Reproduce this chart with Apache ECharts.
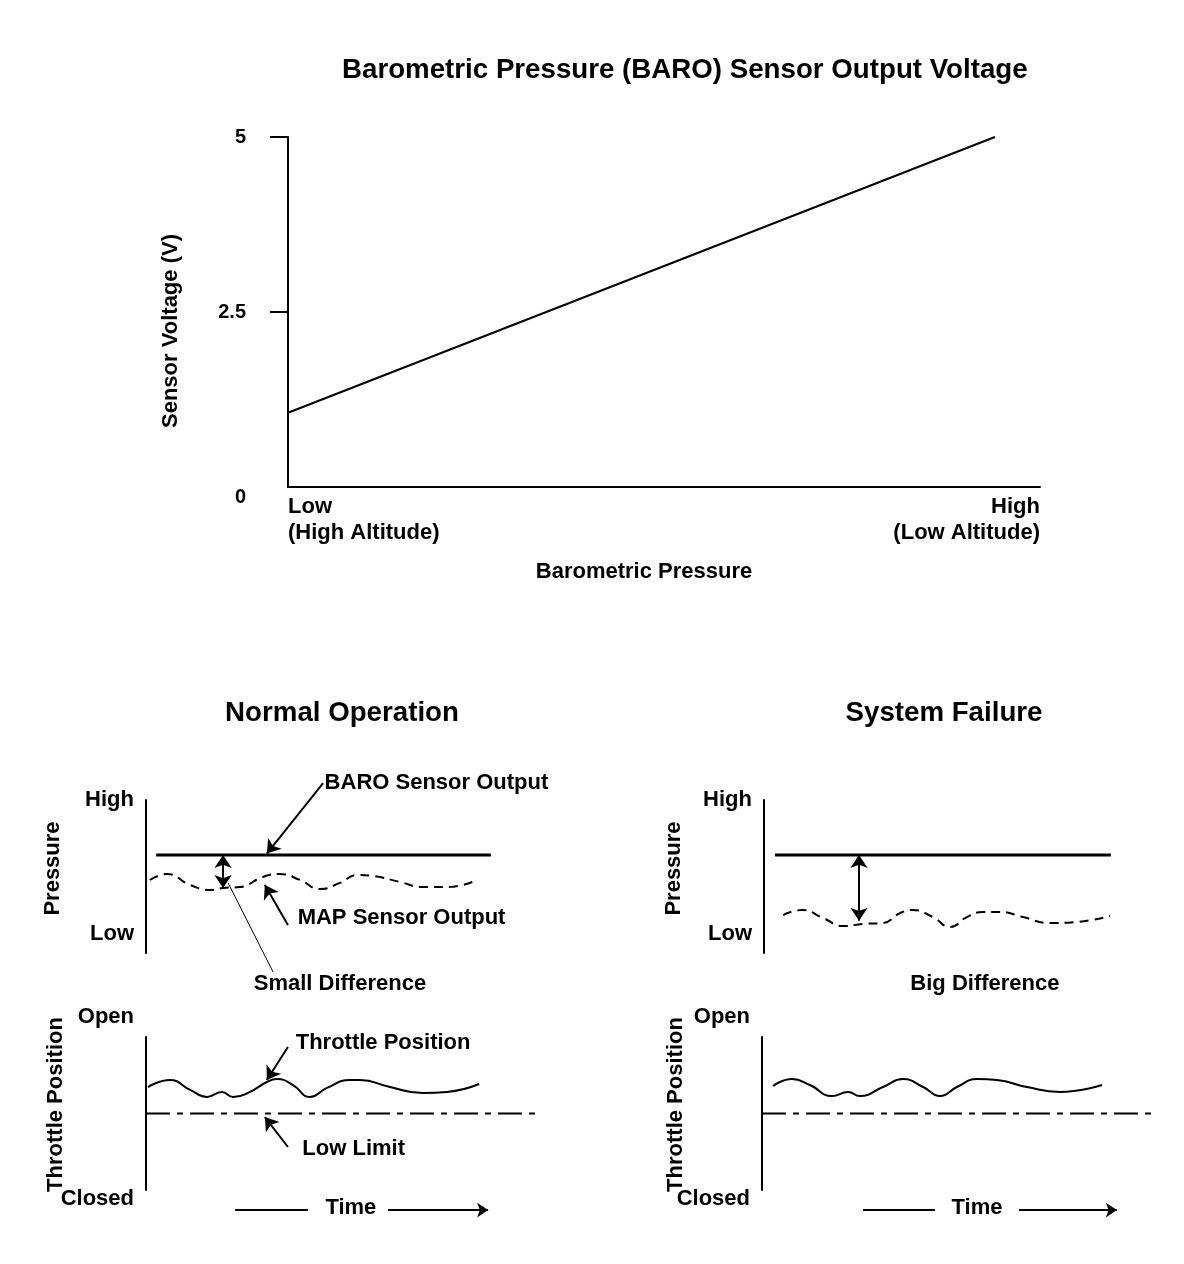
<!DOCTYPE html>
<html>
<head>
<meta charset="utf-8">
<title>BARO Sensor Output Voltage</title>
<script src="https://cdn.jsdelivr.net/npm/echarts@6/dist/echarts.min.js"></script>
<style>
  html, body { margin: 0; padding: 0; background: #fff; }
  #chart { width: 1184px; height: 1264px; }
</style>
</head>
<body>
<div id="chart"></div>
<script>
const FONT = "'Liberation Sans', Arial, Helvetica, sans-serif";

// top chart: voltage against barometric pressure (0 = low, 100 = high)
const baroPressure = [0, 94];
const baroVolts = [1.06, 5];
const voltTicks = [0, 2.5, 5];
const pressureEnds = ['Low\n(High Altitude)', 'High\n(Low Altitude)'];

// lower panels: time 0..100, level 0..10
const normalBaroTime = [2.6, 88.2];
const normalBaroLevel = [6.4, 6.4];
const normalMapTime = [1.0, 5.4, 11.3, 16.4, 19.7, 24.0, 29.9, 34.3, 39.4, 44.5, 49.6, 54.0, 58.1, 65.0, 70.8, 77.0, 84.7];
const normalMapLevel = [4.77, 5.16, 4.44, 4.12, 4.25, 4.31, 4.97, 5.16, 4.77, 4.18, 4.58, 5.10, 5.03, 4.64, 4.31, 4.31, 4.77];
const normalThrottleTime = [0.5, 6.1, 11.3, 15.6, 19.4, 22.3, 26.6, 30.9, 33.5, 37.6, 41.9, 46.3, 52.2, 54.7, 62.4, 70.8, 77.0, 85.2];
const normalThrottleLevel = [6.73, 7.19, 6.54, 6.08, 6.41, 6.08, 6.41, 7.06, 7.25, 6.86, 6.08, 6.67, 7.19, 7.19, 6.73, 6.34, 6.41, 6.93];

const failureBaroTime = [2.8, 88.7];
const failureBaroLevel = [6.4, 6.4];
const failureMapTime = [4.9, 9.7, 15.1, 20.2, 25.3, 30.4, 34.8, 38.1, 43.2, 47.6, 51.9, 56.0, 60.4, 66.2, 73.1, 80.1, 88.5];
const failureMapLevel = [2.48, 2.81, 2.29, 1.76, 1.90, 1.96, 2.61, 2.81, 2.35, 1.70, 2.35, 2.68, 2.68, 2.35, 1.96, 2.03, 2.42];
const failureThrottleTime = [2.8, 7.6, 12.2, 17.8, 21.9, 24.9, 30.8, 35.9, 41.0, 45.3, 49.6, 54.7, 59.8, 67.4, 75.8, 86.5];
const failureThrottleLevel = [6.80, 7.25, 6.86, 6.14, 6.41, 6.14, 6.73, 7.25, 6.73, 6.14, 6.73, 7.25, 7.19, 6.73, 6.41, 6.86];

const lowLimitTime = [0, 100];
const lowLimitLevel = [5, 5];

const pressureLabels = ['High', 'Low'];
const pressureLabelAt = [10, 1.24];
const throttleLabels = ['Open', 'Closed'];
const throttleLabelAt = [11.3, -0.6];

const black = '#000';
const bold = (size) => ({color: black, fontFamily: FONT, fontWeight: 'bold', fontSize: size});
const pairs = (xs, ys) => xs.map((x, i) => [x, ys[i]]);

const chart = echarts.init(document.getElementById('chart'));

const grids = [
  {left: 288, top: 137, width: 752, height: 350},
  {left: 146, top: 800, width: 391, height: 153},   // normal, pressure
  {left: 146, top: 1037, width: 391, height: 153},  // normal, throttle
  {left: 764, top: 800, width: 391, height: 153},   // failure, pressure
  {left: 762, top: 1037, width: 393, height: 153}   // failure, throttle
];
// overlay grids for notes: same scale, x 0..105, y -4..13
grids.slice(1).forEach(g => {
  grids.push({left: g.left, top: g.top - 0.3 * g.height, width: 1.05 * g.width, height: 1.7 * g.height});
});
grids.forEach(g => { g.outerBoundsMode = 'none'; });

const hiddenX = (gridIndex, max) => ({gridIndex, type: 'value', min: 0, max, show: false});

const panelY = (gridIndex, name, nameGap, padding) => ({
  gridIndex, type: 'value', min: 0, max: 10,
  name, nameLocation: 'middle', nameGap,
  nameTextStyle: {...bold(22), padding},
  axisLine: {lineStyle: {color: black, width: 2}},
  axisTick: {show: false},
  axisLabel: {show: false},
  splitLine: {show: false}
});

const labelY = (gridIndex, values, labels) => ({
  gridIndex, type: 'value', min: -4, max: 13,
  axisLine: {show: false},
  axisTick: {show: false},
  splitLine: {show: false},
  axisLabel: {
    customValues: values,
    formatter: v => labels[values.indexOf(v)],
    margin: 12,
    ...bold(22)
  }
});

const line = (index, data, style, extra) => Object.assign({
  type: 'line', xAxisIndex: index, yAxisIndex: index,
  data, symbol: 'none', silent: true,
  lineStyle: Object.assign({color: black, width: 2}, style)
}, extra);

// arrows and notes, drawn in data units on the overlay grids
const arrow = (from, to, both) => [
  {coord: from, symbol: both ? 'arrow' : 'none', symbolSize: 13},
  {coord: to, symbol: 'arrow', symbolSize: 13}
];
const rule = (from, to, width) => [
  {coord: from, symbol: 'none', lineStyle: {width}},
  {coord: to, symbol: 'none'}
];
const note = (coord, text, position) => ({
  coord, symbol: 'rect', symbolSize: 1,
  itemStyle: {color: 'rgba(0,0,0,0)'},
  label: {show: true, formatter: text, position, distance: 1, ...bold(22)}
});
const notes = (index, lines, points) => ({
  type: 'line', xAxisIndex: index, yAxisIndex: index, data: [], silent: true, clip: false,
  markLine: {
    silent: true, animation: false,
    label: {show: false},
    emphasis: {disabled: true},
    lineStyle: {color: black, width: 2, type: 'solid'},
    itemStyle: {color: black},
    data: lines
  },
  markPoint: {silent: true, animation: false, data: points}
});

const option = {
  animation: false,
  backgroundColor: '#fff',
  textStyle: {fontFamily: FONT},
  title: [
    {text: 'Barometric Pressure (BARO) Sensor Output Voltage', left: 342, top: 56, padding: 0, textStyle: bold(27.7)},
    {text: 'Normal Operation', left: 342, top: 699, textAlign: 'center', padding: 0, textStyle: bold(27.7)},
    {text: 'System Failure', left: 944, top: 699, textAlign: 'center', padding: 0, textStyle: bold(27.7)}
  ],
  grid: grids,
  xAxis: [
    {
      gridIndex: 0, type: 'value', min: 0, max: 100,
      name: 'Barometric Pressure', nameLocation: 'middle', nameGap: 74,
      nameTextStyle: {...bold(22), padding: [0, 40, 0, 0]},
      axisLine: {lineStyle: {color: black, width: 2}},
      axisTick: {show: false},
      splitLine: {show: false},
      axisLabel: {
        customValues: [0, 100],
        formatter: v => pressureEnds[v === 0 ? 0 : 1],
        alignMinLabel: 'left',
        alignMaxLabel: 'right',
        margin: 7,
        lineHeight: 26,
        ...bold(22)
      }
    },
    hiddenX(1, 100), hiddenX(2, 100), hiddenX(3, 100), hiddenX(4, 100),
    hiddenX(5, 105), hiddenX(6, 105), hiddenX(7, 105), hiddenX(8, 105)
  ],
  yAxis: [
    {
      gridIndex: 0, type: 'value', min: 0, max: 5,
      name: 'Sensor Voltage (V)', nameLocation: 'middle', nameGap: 106,
      nameTextStyle: {...bold(22), padding: [0, 38, 0, 0]},
      axisLine: {lineStyle: {color: black, width: 2}},
      axisTick: {customValues: [2.5, 5], length: 18, lineStyle: {color: black, width: 2}},
      splitLine: {show: false},
      axisLabel: {
        customValues: voltTicks,
        formatter: v => v === 0 ? '{z|0}' : '{n|' + v + '}',
        margin: 42,
        rich: {
          z: {...bold(20), padding: [20, 0, 0, 0]},
          n: bold(20)
        }
      }
    },
    panelY(1, 'Pressure', 82, [0, 0, 0, 16]),
    panelY(2, 'Throttle Position', 79, [0, 0, 0, 18]),
    panelY(3, 'Pressure', 79, [0, 0, 0, 16]),
    panelY(4, 'Throttle Position', 75, [0, 0, 0, 18]),
    labelY(5, pressureLabelAt, pressureLabels),
    labelY(6, throttleLabelAt, throttleLabels),
    labelY(7, pressureLabelAt, pressureLabels),
    labelY(8, throttleLabelAt, throttleLabels)
  ],
  series: [
    line(0, pairs(baroPressure, baroVolts), {width: 2}),

    line(1, pairs(normalBaroTime, normalBaroLevel), {width: 3}),
    line(1, pairs(normalMapTime, normalMapLevel), {type: [9, 6]}, {smooth: 0.5}),
    line(2, pairs(normalThrottleTime, normalThrottleLevel), {}, {smooth: 0.5}),
    line(2, pairs(lowLimitTime, lowLimitLevel), {type: [24, 7, 6, 7]}),

    line(3, pairs(failureBaroTime, failureBaroLevel), {width: 3}),
    line(3, pairs(failureMapTime, failureMapLevel), {type: [9, 6]}, {smooth: 0.5}),
    line(4, pairs(failureThrottleTime, failureThrottleLevel), {}, {smooth: 0.5}),
    line(4, pairs(lowLimitTime, lowLimitLevel), {type: [24, 7, 6, 7]}),

    notes(5, [
      arrow([45.3, 11.1], [30.9, 6.5]),
      arrow([36.3, 1.83], [30.4, 4.44]),
      rule([32.5, -1.24], [21.0, 4.58], 1),
      arrow([19.7, 6.4], [19.7, 4.25], true)
    ], [
      note([45.3, 11.1], 'BARO Sensor Output', 'right'),
      note([38.4, 2.29], 'MAP Sensor Output', 'right'),
      note([49.6, -2.03], 'Small Difference', 'inside')
    ]),
    notes(6, [
      arrow([36.3, 9.35], [30.9, 7.19]),
      arrow([36.3, 2.81], [30.4, 4.77]),
      rule([22.8, -1.31], [41.4, -1.31], 2),
      [{coord: [61.9, -1.31], symbol: 'none'}, {coord: [87.5, -1.31], symbol: 'arrow', symbolSize: 11}]
    ], [
      note([37.9, 9.61], 'Throttle Position', 'right'),
      note([39.6, 2.68], 'Low Limit', 'right'),
      note([52.4, -1.18], 'Time', 'inside')
    ]),
    notes(7, [
      arrow([24.3, 6.4], [24.3, 2.1], true)
    ], [
      note([56.5, -2.03], 'Big Difference', 'inside')
    ]),
    notes(8, [
      rule([25.7, -1.31], [44.0, -1.31], 2),
      [{coord: [65.4, -1.31], symbol: 'none'}, {coord: [90.3, -1.31], symbol: 'arrow', symbolSize: 11}]
    ], [
      note([54.7, -1.18], 'Time', 'inside')
    ])
  ]
};

chart.setOption(option);

window.addEventListener('resize', () => {
  chart.resize();
});
</script>
</body>
</html>
